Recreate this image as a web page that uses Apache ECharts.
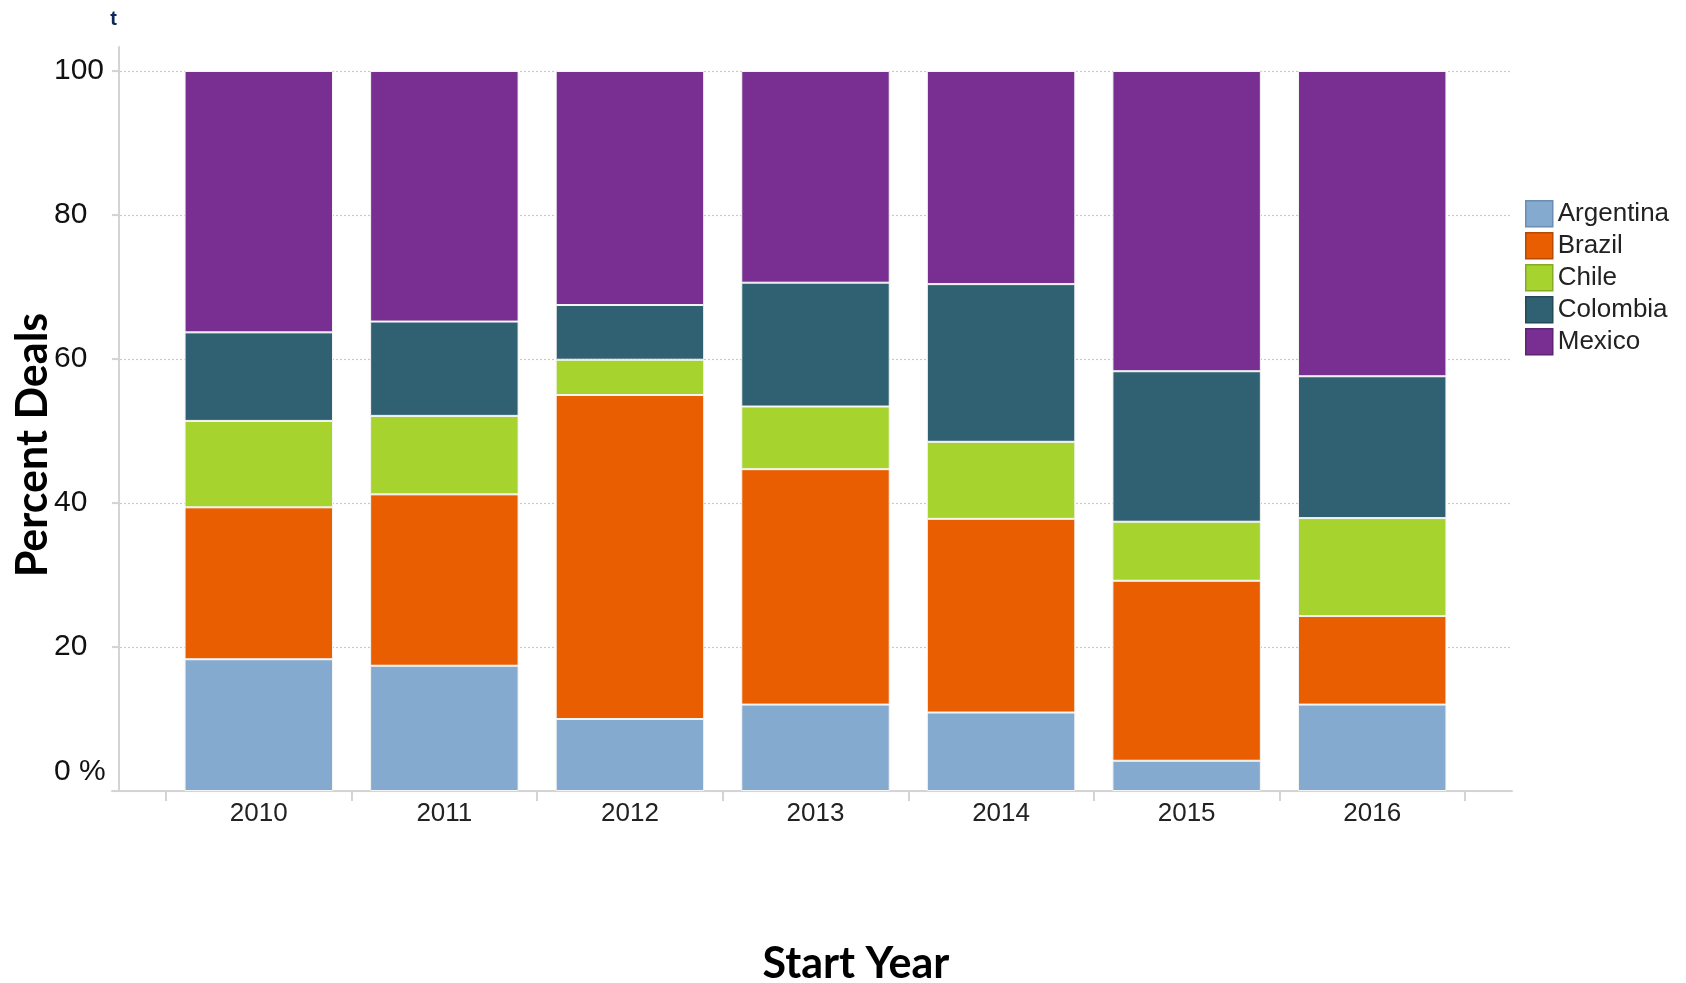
<!DOCTYPE html>
<html>
<head>
<meta charset="utf-8">
<title>Percent Deals by Start Year</title>
<script src="https://cdn.jsdelivr.net/npm/echarts@6/dist/echarts.min.js"></script>
<style>
  html, body { margin: 0; padding: 0; background: #ffffff; }
  #chart { width: 1686px; height: 983px; }
</style>
</head>
<body>
<div id="chart"></div>
<script>
// Start years along the category axis
const years = ['2010', '2011', '2012', '2013', '2014', '2015', '2016'];

// Share of deals (%) per country and year, stacked bottom to top
const argentina = [18.3, 17.4, 10.0, 12.0, 10.9, 4.2, 12.0];
const brazil    = [21.1, 23.8, 45.0, 32.7, 26.9, 25.0, 12.3];
const chile     = [12.0, 10.9, 4.9, 8.7, 10.7, 8.2, 13.6];
const colombia  = [12.3, 13.1, 7.6, 17.2, 21.9, 20.9, 19.7];
const mexico    = [36.3, 34.8, 32.5, 29.4, 29.6, 41.7, 42.4];

// Value axis ticks
const yTicks = [0, 20, 40, 60, 80, 100];

const countries = ['Argentina', 'Brazil', 'Chile', 'Colombia', 'Mexico'];
const seriesValues = [argentina, brazil, chile, colombia, mexico];
const fills   = ['#85AACF', '#E85E00', '#A6D32E', '#2F6172', '#782F91'];
const borders = ['#6A8DB0', '#B84A00', '#86AA22', '#234A57', '#5E2372'];

const labelFont = '"Liberation Sans", Arial, sans-serif';
const titleFont = 'Lato, "Open Sans", sans-serif';
const axisGray = '#d4d4d4';

const chart = echarts.init(document.getElementById('chart'), null, { renderer: 'canvas' });

const option = {
  animation: false,
  backgroundColor: '#ffffff',
  grid: [
    // bars
    { left: 166, right: 221, top: 71, bottom: 192 },
    // gridlines, value labels and the baseline
    { left: 112, right: 174, top: 71, bottom: 192 },
    // vertical axis line
    { left: 119, right: 174, top: 47, bottom: 192 }
  ],
  xAxis: [
    {
      type: 'category',
      gridIndex: 0,
      data: years,
      boundaryGap: true,
      axisLine: { show: false },
      axisTick: { show: true, length: 10, lineStyle: { color: axisGray, width: 2 } },
      axisLabel: { fontSize: 26, color: '#222', fontFamily: labelFont, margin: 10 },
      splitLine: { show: false }
    },
    {
      type: 'value',
      gridIndex: 1,
      min: 0, max: 1,
      axisLine: { show: true, lineStyle: { color: axisGray, width: 2 } },
      axisTick: { show: false },
      axisLabel: { show: false },
      splitLine: { show: false }
    },
    {
      type: 'value',
      gridIndex: 2,
      show: false
    }
  ],
  yAxis: [
    {
      type: 'value',
      gridIndex: 0,
      min: 0, max: 100, interval: 20,
      show: false
    },
    {
      type: 'value',
      gridIndex: 1,
      min: 0, max: 100, interval: 20,
      axisLine: { show: false },
      axisTick: { show: true, inside: true, length: 7.5, lineStyle: { color: axisGray, width: 2 } },
      axisLabel: {
        fontSize: 30,
        color: '#111',
        fontFamily: labelFont,
        align: 'left',
        margin: 58,
        formatter: function (v) {
          return v === 0 ? '{z|0 %}' : String(yTicks.indexOf(v) >= 0 ? v : '');
        },
        rich: {
          z: { fontSize: 30, color: '#111', fontFamily: labelFont, padding: [0, 0, 38, 0] }
        }
      },
      splitLine: { show: true, lineStyle: { color: '#c8c8c8', width: 1.2, type: [2, 2] } }
    },
    {
      type: 'value',
      gridIndex: 2,
      min: 0, max: 1,
      axisLine: { show: true, lineStyle: { color: axisGray, width: 2 } },
      axisTick: { show: false },
      axisLabel: { show: false },
      splitLine: { show: false }
    }
  ],
  legend: {
    orient: 'vertical',
    left: 1520,
    top: 195,
    itemWidth: 27,
    itemHeight: 26,
    itemGap: 4.5,
    icon: 'rect',
    textStyle: { fontSize: 26, lineHeight: 26, color: '#222', fontFamily: labelFont },
    data: countries.map(function (name, i) {
      return { name: name, itemStyle: { color: fills[i], borderColor: borders[i], borderWidth: 1.5 } };
    })
  },
  series: countries.map(function (name, i) {
    return {
      name: name,
      type: 'bar',
      stack: 'share',
      xAxisIndex: 0,
      yAxisIndex: 0,
      barWidth: '80%',
      data: seriesValues[i],
      itemStyle: { color: fills[i], borderColor: '#f4f4f4', borderWidth: 1 },
      emphasis: { disabled: true }
    };
  }),
  graphic: [
    {
      type: 'text',
      x: 117, y: 19,
      style: {
        text: 't',
        fill: '#0b2a5b',
        font: 'bold 20px ' + labelFont,
        textAlign: 'right',
        textVerticalAlign: 'middle'
      }
    },
    {
      type: 'text',
      x: 33, y: 445,
      rotation: Math.PI / 2,
      style: {
        text: 'Percent Deals',
        fill: '#000',
        font: 'bold 43px ' + titleFont,
        textAlign: 'center',
        textVerticalAlign: 'middle'
      }
    },
    {
      type: 'text',
      x: 856, y: 964,
      style: {
        text: 'Start Year',
        fill: '#000',
        font: 'bold 43px ' + titleFont,
        textAlign: 'center',
        textVerticalAlign: 'middle'
      }
    }
  ]
};

chart.setOption(option);
</script>
</body>
</html>
